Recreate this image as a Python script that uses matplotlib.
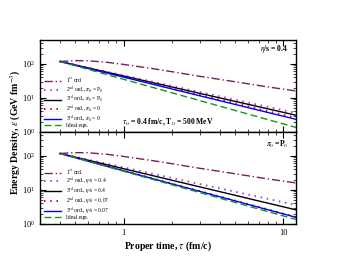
import numpy as np
import matplotlib.pyplot as plt
from matplotlib.ticker import LogLocator, NullFormatter

plt.rcParams['font.family'] = 'Liberation Serif'
plt.rcParams['mathtext.fontset'] = 'stix'

# proper time samples (fm/c)
tau = [0.4, 0.6, 1.0, 2.0, 4.0, 8.0, 12.0]
tau_first = [0.4, 0.5, 0.6, 0.8, 1.0, 1.5, 2.0, 3.0, 4.0, 6.0, 8.0, 12.0]

# energy density (GeV fm^-3), shared curves
first_ord = [117, 124, 123, 110, 96, 73, 59, 43, 35, 26, 21, 16]
ideal = [117, 68.8, 35.2, 14.2, 5.73, 2.31, 1.36]

# top panel: eta/s = 0.4
top_2nd_P0 = [117, 77.3, 45.8, 22.5, 11.1, 5.46, 3.61]
top_3rd_P0 = [117, 75.9, 44.0, 21.0, 10.0, 4.79, 3.10]
top_2nd_0 = [117, 74.3, 42.0, 19.3, 8.9, 4.09, 2.60]
top_3rd_0 = [117, 73.4, 40.8, 18.4, 8.30, 3.74, 2.35]

# bottom panel: pi0 = P0
bot_2nd_04 = [117, 77.3, 45.8, 22.5, 11.1, 5.46, 3.61]
bot_3rd_04 = [117, 74.3, 42.0, 19.3, 8.9, 4.09, 2.60]
bot_2nd_007 = [117, 70.2, 36.8, 15.3, 6.40, 2.67, 1.60]
bot_3rd_007 = [117, 70.0, 36.5, 15.1, 6.30, 2.62, 1.57]

top_labels = ['1$^{st}$ ord',
              '2$^{nd}$ ord., $\\pi_0$ = P$_0$',
              '3$^{rd}$ ord., $\\pi_0$ = P$_0$',
              '2$^{nd}$ ord., $\\pi_0$ = 0',
              '3$^{rd}$ ord., $\\pi_0$ = 0',
              'Ideal eqn.']
bot_labels = ['1$^{st}$ ord.',
              '2$^{nd}$ ord., $\\eta$/s = 0.4',
              '3$^{rd}$ ord., $\\eta$/s = 0.4',
              '2$^{nd}$ ord., $\\eta$/s = 0.07',
              '3$^{rd}$ ord., $\\eta$/s = 0.07',
              'Ideal eqn.']

c_first = '#7f1a60'
c_purple = '#9944ee'

fig = plt.figure(figsize=(3.63, 2.56), dpi=100)
ax1 = fig.add_axes([40/363, 1 - 132/256, 256/363, 92/256])
ax2 = fig.add_axes([40/363, 1 - 224/256, 256/363, 92/256], sharex=ax1)


def draw(ax, series, labels):
    s2, s3, r2, r3 = series
    ax.plot(tau_first, first_ord, color=c_first, lw=1.0, ls=(0, (6, 2, 1, 2)), label=labels[0])
    ax.plot(tau, s2, color=c_purple, lw=1.4, ls=(0, (0.8, 2.4)), label=labels[1])
    ax.plot(tau, s3, color='black', lw=1.0, label=labels[2])
    ax.plot(tau, r2, color='red', lw=1.4, ls=(0, (0.8, 2.4)), label=labels[3])
    ax.plot(tau, r3, color='blue', lw=1.0, label=labels[4])
    ax.plot(tau, ideal, color='#119911', lw=1.0, ls=(0, (5, 2.5)), label=labels[5])
    ax.set_xscale('log')
    ax.set_yscale('log')
    ax.set_xlim(0.3, 12)
    ax.set_ylim(1, 500)
    ax.yaxis.set_major_locator(LogLocator(base=10, numticks=5))
    ax.yaxis.set_minor_locator(LogLocator(base=10, subs=np.arange(2, 10), numticks=10))
    ax.yaxis.set_minor_formatter(NullFormatter())
    ax.tick_params(which='both', direction='in', top=True, right=True, labelsize=6)
    ax.tick_params(which='major', length=4, width=0.8)
    ax.tick_params(which='minor', length=2, width=0.5)
    for sp in ax.spines.values():
        sp.set_linewidth(1.0)
    ax.legend(loc='lower left', frameon=False, fontsize=4, handlelength=3.0,
              labelspacing=-0.2, borderaxespad=0.4, handletextpad=0.8)


draw(ax1, [top_2nd_P0, top_3rd_P0, top_2nd_0, top_3rd_0], top_labels)
draw(ax2, [bot_2nd_04, bot_3rd_04, bot_2nd_007, bot_3rd_007], bot_labels)

plt.setp(ax1.get_xticklabels(), visible=False)
ax2.set_xticks([1, 10])
ax2.set_xticklabels(['1', '10'])

ax1.text(0.97, 0.9, '$\\eta$/s = 0.4', transform=ax1.transAxes, ha='right', va='center',
         fontsize=5.5, fontweight='bold')
ax1.text(0.5, 0.1, '$\\tau_0$ = 0.4 fm/c, T$_0$ = 500 MeV', transform=ax1.transAxes,
         ha='center', va='center', fontsize=5.5, fontweight='bold')
ax2.text(0.97, 0.86, '$\\pi_0$ =P$_0$', transform=ax2.transAxes, ha='right', va='center',
         fontsize=5.5, fontweight='bold')

ax2.set_xlabel('Proper time, $\\tau$ (fm/c)', fontsize=7, fontweight='bold', labelpad=2)
fig.text(16/363, 1 - 132/256, 'Energy Density, $\\epsilon$ (GeV fm$^{-3}$)', rotation=90,
         ha='center', va='center', fontsize=7, fontweight='bold')

fig.savefig('out.png', dpi=100)
